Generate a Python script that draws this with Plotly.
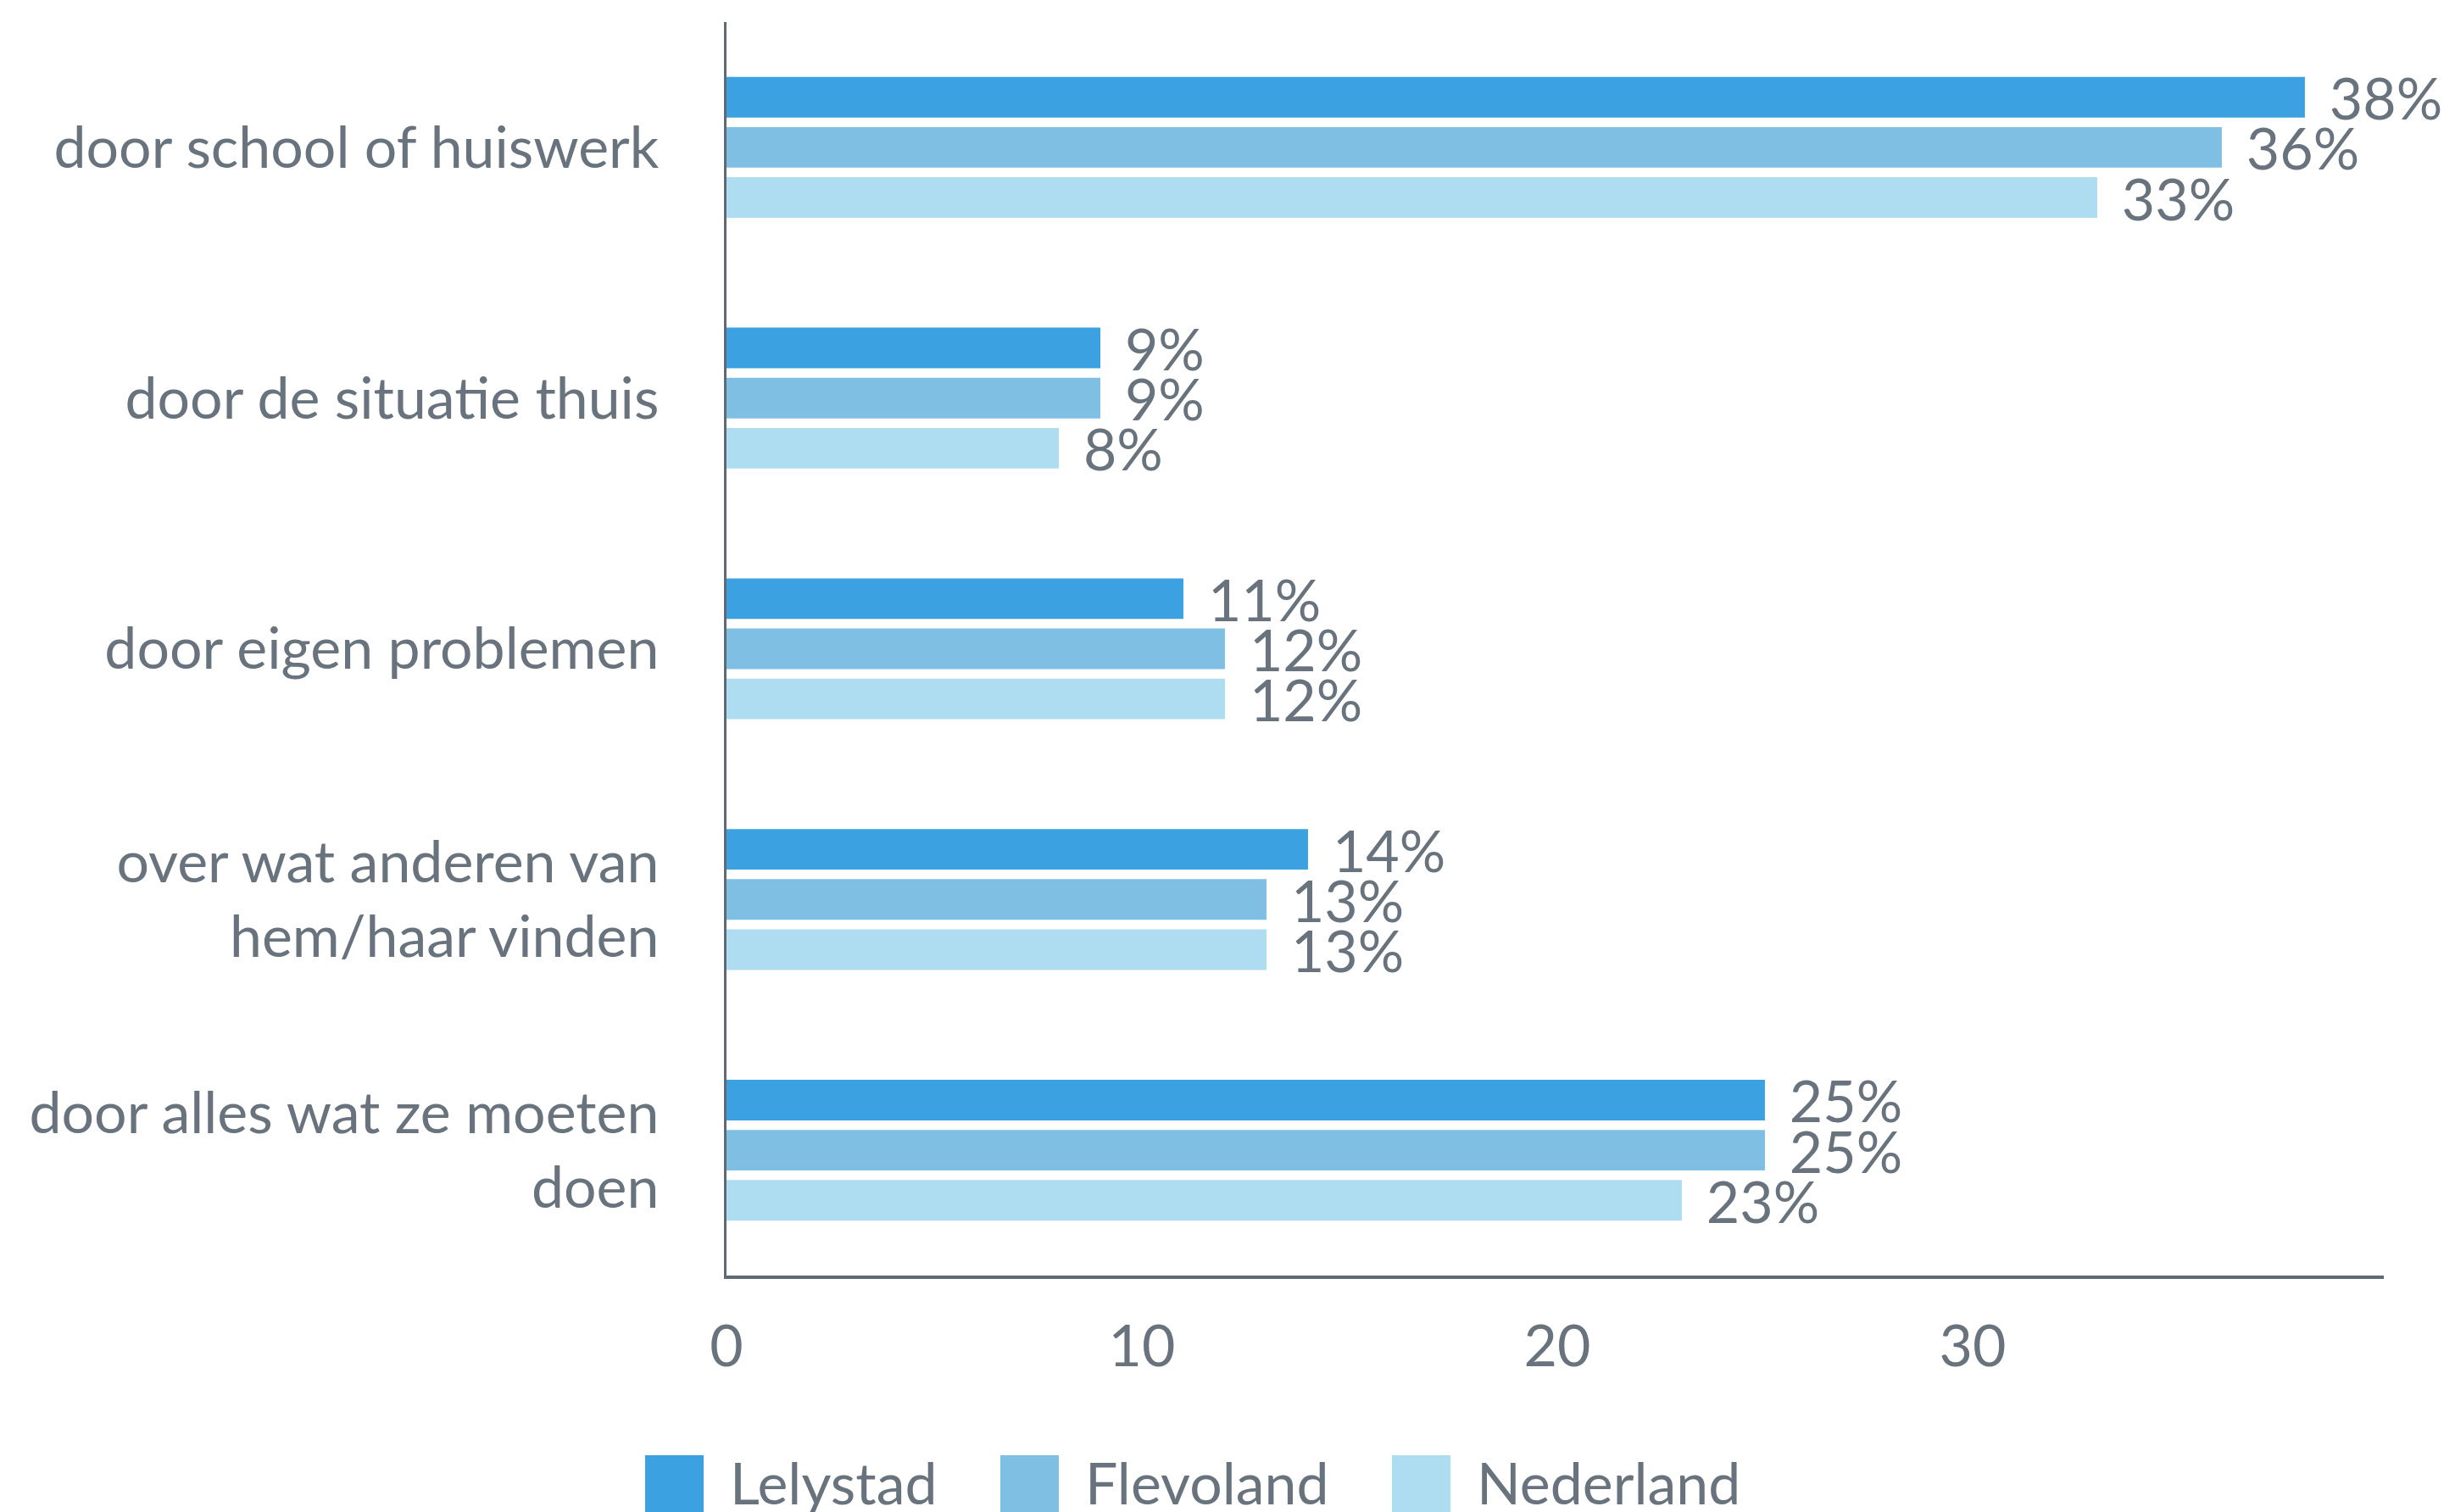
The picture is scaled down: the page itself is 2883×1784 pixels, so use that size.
import plotly.graph_objects as go

# ---- data ----
categories = [
    "door school of huiswerk",
    "door de situatie thuis",
    "door eigen problemen",
    "over wat anderen van<br>hem/haar vinden",
    "door alles wat ze moeten<br>doen",
]
series_names = ["Lelystad", "Flevoland", "Nederland"]
lelystad = [38, 9, 11, 14, 25]
flevoland = [36, 9, 12, 13, 25]
nederland = [33, 8, 12, 13, 23]
x_ticks = [0, 10, 20, 30]

# ---- style ----
colors = ["#3ba1e1", "#80bfe4", "#aedcf0"]
text_color = "#68737e"
axis_color = "#5f6a75"
FONT = "Lato"
FS = 68

W, H = 2883, 1784
L, R, T, B = 857, 71, 26, 279
plot_w = W - L - R
plot_h = H - T - B


def px_x(px):
    return (px - L) / plot_w


def px_y(py):
    return (H - B - py) / plot_h


fig = go.Figure()
for name, vals, col in zip(series_names, [lelystad, flevoland, nederland], colors):
    fig.add_trace(go.Bar(
        y=categories,
        x=vals,
        name=name,
        orientation="h",
        marker=dict(color=col, line=dict(width=0)),
        text=["\u00a0\u2009" + f"{v}%" for v in vals],
        textposition="outside",
        constraintext="none",
        cliponaxis=False,
        textfont=dict(family=FONT, size=FS, color=text_color),
        showlegend=False,
    ))

# custom legend (large swatches as in the reference)
legend_swatch_x = [761, 1180, 1642]
swatch_size = 69
swatch_top = 1717
for i, (name, col) in enumerate(zip(series_names, colors)):
    x0 = legend_swatch_x[i]
    fig.add_shape(
        type="rect", xref="paper", yref="paper",
        x0=px_x(x0), x1=px_x(x0 + swatch_size),
        y0=px_y(swatch_top), y1=px_y(swatch_top + swatch_size),
        fillcolor=col, line=dict(width=0), layer="above",
    )
    fig.add_annotation(
        text=name, xref="paper", yref="paper",
        x=px_x(x0 + swatch_size + 29), y=px_y(1706),
        xanchor="left", yanchor="top", showarrow=False,
        font=dict(family=FONT, size=FS, color=text_color),
    )

fig.update_layout(
    width=W, height=H,
    margin=dict(l=L, r=R, t=T, b=B, pad=0),
    paper_bgcolor="white", plot_bgcolor="white",
    barmode="group",
    bargap=0.40,
    bargroupgap=0.19,
    font=dict(family=FONT, size=FS, color=text_color),
    xaxis=dict(
        range=[0, 39.9],
        tickvals=x_ticks,
        ticktext=[str(t) for t in x_ticks],
        showgrid=False, zeroline=False,
        showline=True, linecolor=axis_color, linewidth=4,
        ticks="", ticklabelstandoff=21,
        tickfont=dict(family=FONT, size=FS, color=text_color),
    ),
    yaxis=dict(
        autorange="reversed",
        showgrid=False, zeroline=False,
        showline=True, linecolor=axis_color, linewidth=3,
        ticks="", ticklabelstandoff=63,
        tickfont=dict(family=FONT, size=FS, color=text_color),
    ),
)

fig.write_html("out.html")
